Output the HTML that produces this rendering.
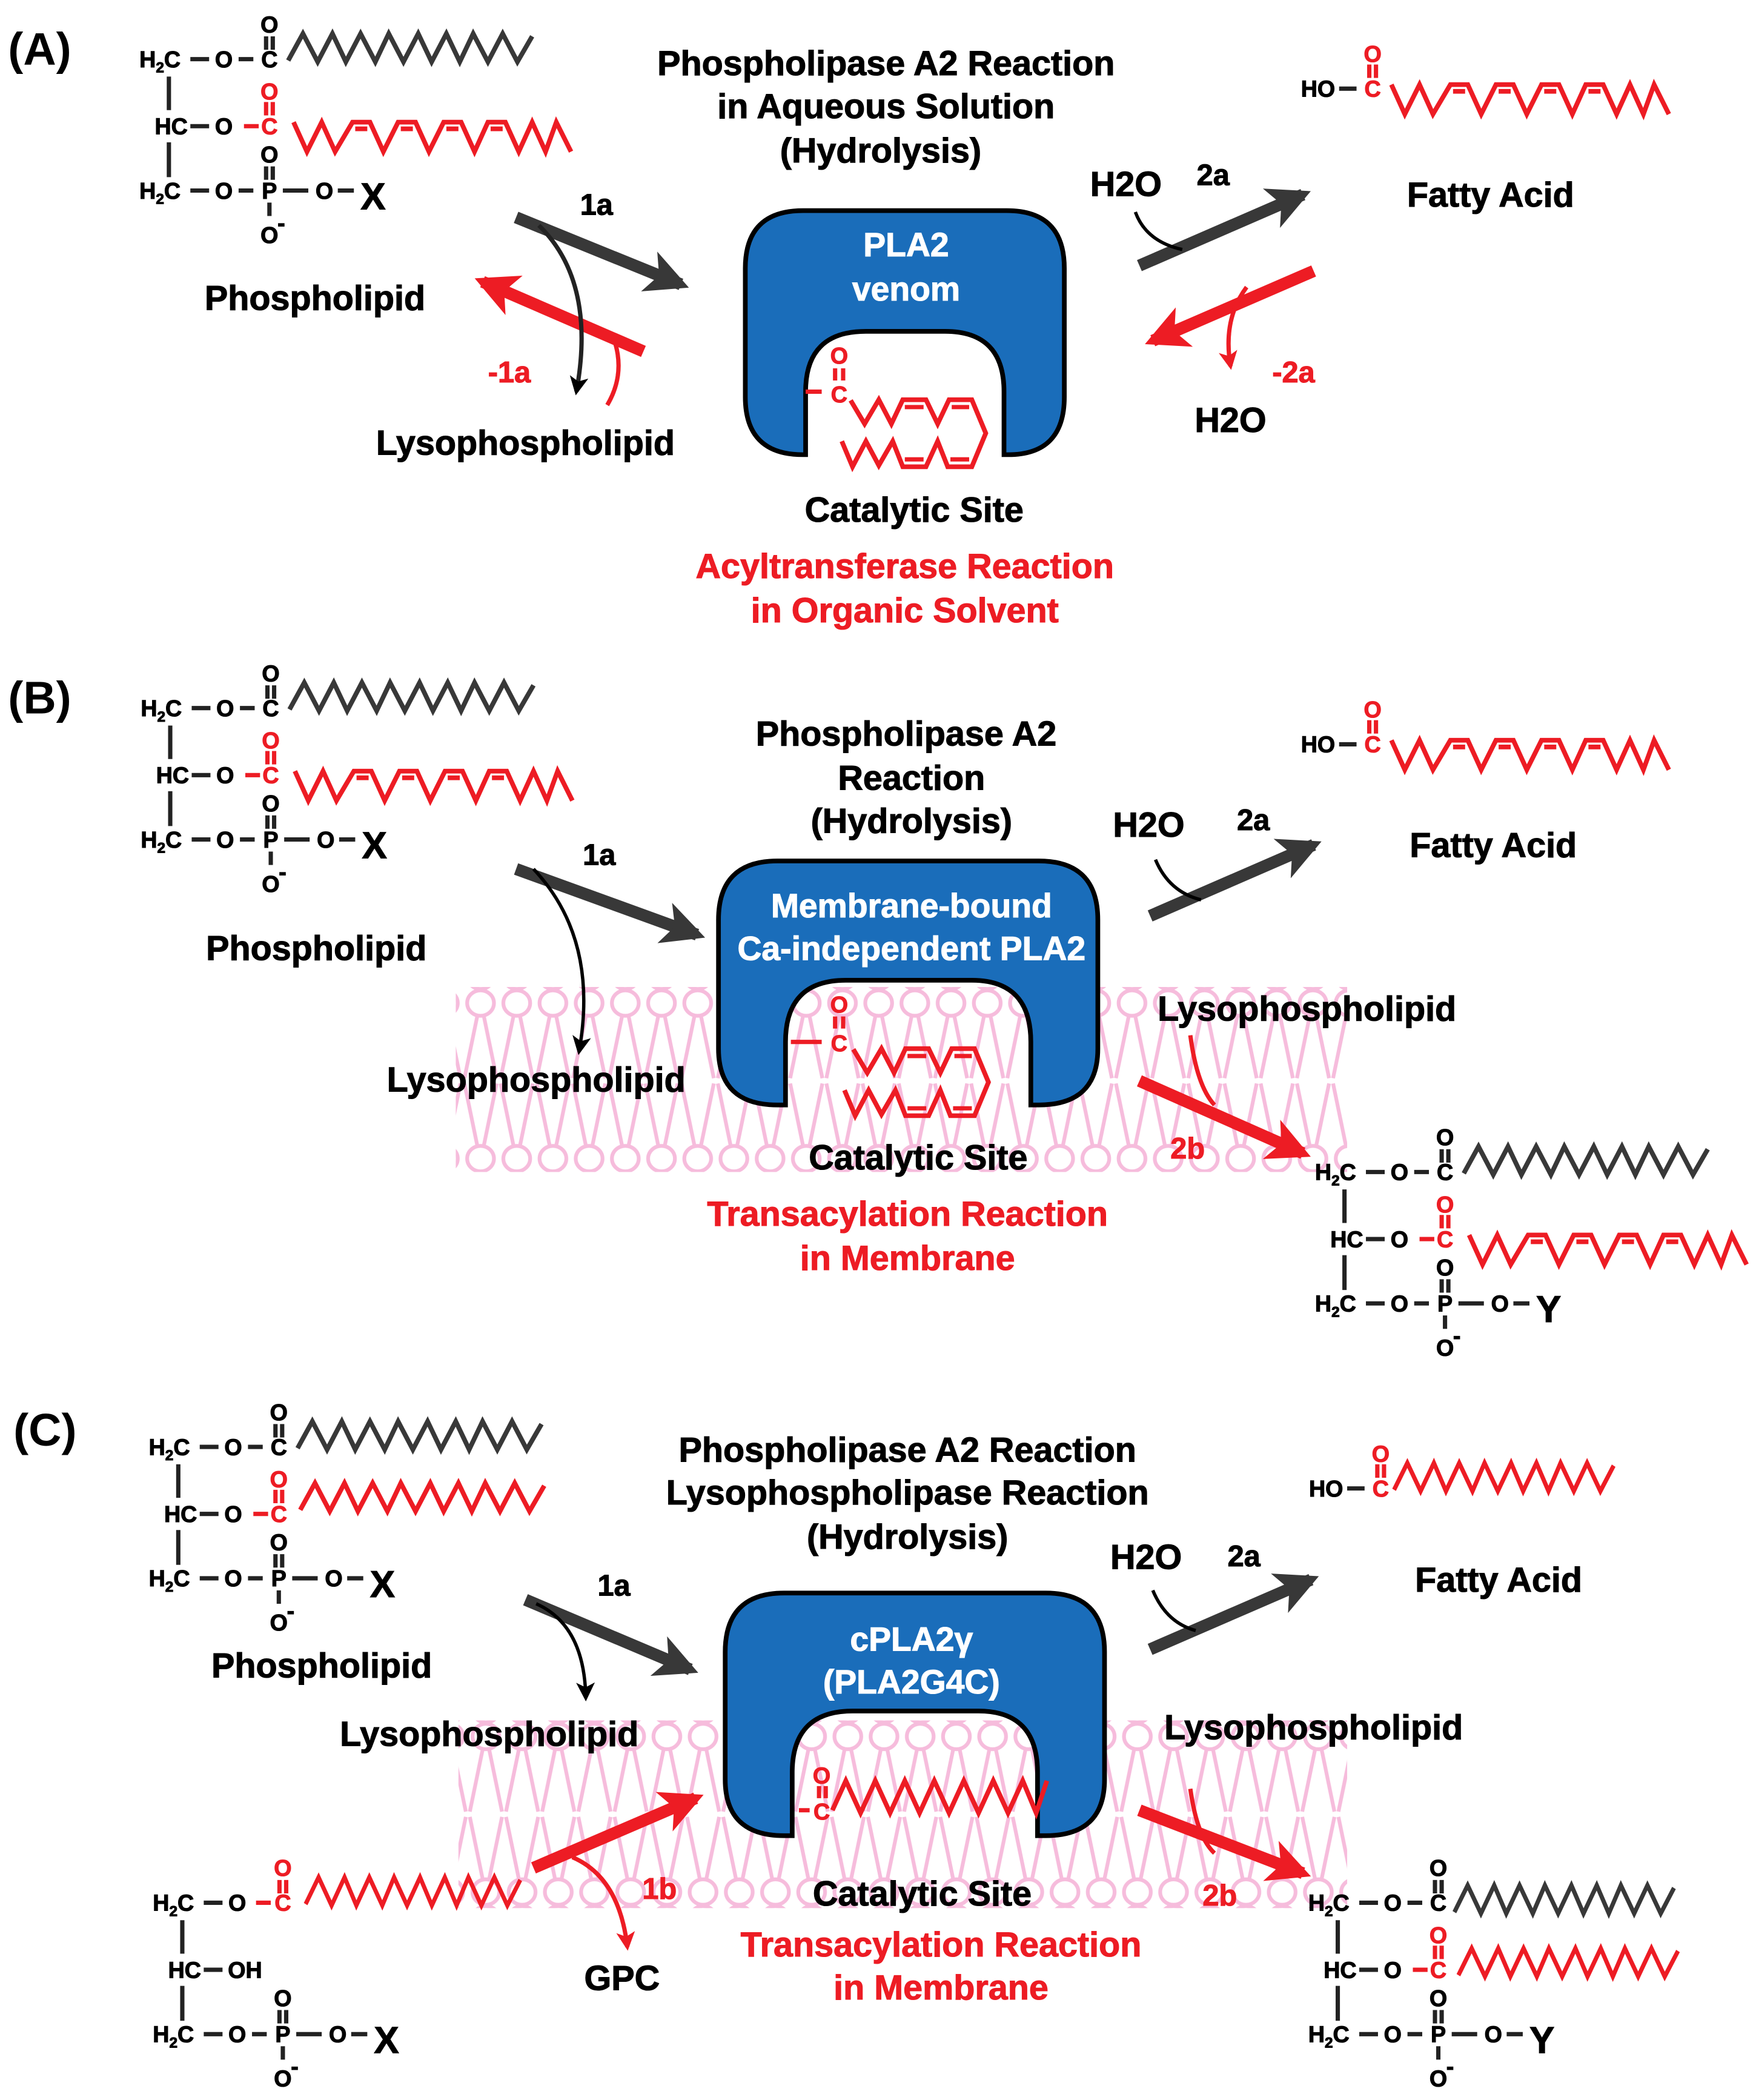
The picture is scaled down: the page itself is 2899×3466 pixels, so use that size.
<!DOCTYPE html>
<html><head><meta charset="utf-8"><style>
html,body{margin:0;padding:0;background:#fff}
svg{display:block}
text{font-family:"Liberation Sans",Arial,sans-serif;font-weight:bold;stroke-width:0.5px;paint-order:stroke}
.a{font-size:17px;fill:#000;stroke:#000}
.ar{font-size:17px;fill:#ed1c24;stroke:#ed1c24}
.m{text-anchor:middle}
.e{text-anchor:end}
.t{font-size:26px;fill:#000;stroke:#000;text-anchor:middle}
.tr{font-size:26px;fill:#ed1c24;stroke:#ed1c24;text-anchor:middle}
.tw{font-size:25px;fill:#fff;stroke:#fff;text-anchor:middle}
.n{font-size:22px;fill:#000;stroke:#000;text-anchor:middle}
.nr{font-size:22px;fill:#ed1c24;stroke:#ed1c24;text-anchor:middle}
.k{stroke:#222;stroke-width:3.2;fill:none}
.r{stroke:#ed1c24;stroke-width:3.2;fill:none}
.zg{stroke:#383838;stroke-width:3.5;fill:none;stroke-linejoin:miter}
.zr{stroke:#ed1c24;stroke-width:3.5;fill:none}
.enz{fill:#1a6dba;stroke:#000;stroke-width:3.5}
.big{font-size:28px;fill:#000;stroke:#000}
</style></head><body>
<svg width="2899" height="3466" viewBox="0 0 1310 1566" xmlns="http://www.w3.org/2000/svg">
<defs>
<polyline id="gz" points="0,0 11,-20 22,1 33,-20 43,1 54,-20 65,1 75,-20 86,1 97,-20 107,1 118,-20 128,1 138,-20 149,1 160,-20 171,1 182,-18"/>
<g id="rzd">
<polyline points="0,0 10,22 21,0 31,22 44,0 57,0 67,22 78,0 91,0 101,22 112,0 125,0 135,22 145,0 158,0 168,22 178,0 188,22 196,0 207,22"/>
<path d="M46,5H55M80,5H89M114,5H123M147,5H156"/>
</g>
<pattern id="memB" width="27" height="136" patternUnits="userSpaceOnUse" x="345" y="738">
<g stroke="#f6bcdc" stroke-width="2.8" fill="#fff">
<path d="M11,20L1.5,66M16,20L25.5,66M1.5,70L11,116M25.5,70L16,116" fill="none"/>
<ellipse cx="13.5" cy="10" rx="10" ry="9.5"/>
<ellipse cx="13.5" cy="126" rx="10" ry="9.5"/>
</g>
</pattern>
<pattern id="memC" width="27" height="136" patternUnits="userSpaceOnUse" x="349" y="1285">
<g stroke="#f6bcdc" stroke-width="2.8" fill="#fff">
<path d="M11,20L1.5,66M16,20L25.5,66M1.5,70L11,116M25.5,70L16,116" fill="none"/>
<ellipse cx="13.5" cy="10" rx="10" ry="9.5"/>
<ellipse cx="13.5" cy="126" rx="10" ry="9.5"/>
</g>
</pattern>
<marker id="hg" viewBox="0 0 10 10" refX="8" refY="5" markerUnits="userSpaceOnUse" markerWidth="36" markerHeight="32" orient="auto"><path d="M0,0L10,5L0,10L2.5,5z" fill="#383838"/></marker>
<marker id="hr" viewBox="0 0 10 10" refX="8" refY="5" markerUnits="userSpaceOnUse" markerWidth="36" markerHeight="32" orient="auto"><path d="M0,0L10,5L0,10L2.5,5z" fill="#ed1c24"/></marker>
<marker id="tk" viewBox="0 0 10 10" refX="8" refY="5" markerUnits="userSpaceOnUse" markerWidth="16" markerHeight="14" orient="auto"><path d="M0,0L10,5L0,10L2.5,5z" fill="#000"/></marker>
<marker id="tr" viewBox="0 0 10 10" refX="8" refY="5" markerUnits="userSpaceOnUse" markerWidth="16" markerHeight="14" orient="auto"><path d="M0,0L10,5L0,10L2.5,5z" fill="#ed1c24"/></marker>
</defs>

<!-- ================= PANEL A ================= -->
<text x="6" y="48" style="font-size:34px">(A)</text>
<g transform="translate(0,0)">
<text class="a" x="104" y="50">H<tspan font-size="11" dy="4">2</tspan><tspan dy="-4">C</tspan></text>
<text class="a" x="104" y="148">H<tspan font-size="11" dy="4">2</tspan><tspan dy="-4">C</tspan></text>
<text class="a e" x="140" y="100">HC</text>
<path class="k" d="M142 44H156M178 44H189M142 94H156M142 142H156M178 142H189M211 142H230M252 142H264M126 57V82M126 106V132M198.5 27V37M203.5 27V37M198.5 124V134M203.5 124V134M201 151V161"/>
<path class="r" d="M182 94H193M198.5 76V86M203.5 76V86"/>
<text class="a m" x="167" y="50">O</text><text class="a m" x="167" y="100">O</text><text class="a m" x="167" y="148">O</text>
<text class="a m" x="201" y="24">O</text><text class="a m" x="201" y="50">C</text>
<text class="ar m" x="201" y="74">O</text><text class="ar m" x="201" y="100">C</text>
<text class="a m" x="201" y="121">O</text><text class="a m" x="201" y="148">P</text>
<text class="a m" x="242" y="148">O</text>
<text class="a m" x="201" y="181">O</text><text class="a" x="207" y="172" font-size="13">-</text>
<text class="big" x="269" y="156">X</text>
<use href="#gz" x="215" y="45" class="zg"/>
<use href="#rzd" x="219" y="91" class="zr"/>
</g>
<text class="t" x="235" y="231">Phospholipid</text>
<text class="t" x="661" y="56">Phospholipase A2 Reaction</text>
<text class="t" x="661" y="88">in Aqueous Solution</text>
<text class="t" x="657" y="121">(Hydrolysis)</text>
<text class="n" x="445" y="160">1a</text>
<line x1="385" y1="162" x2="508" y2="212" stroke="#383838" stroke-width="9" marker-end="url(#hg)"/>
<line x1="480" y1="262" x2="360" y2="210" stroke="#ed1c24" stroke-width="9" marker-end="url(#hr)"/>
<path d="M402 168Q445 210 430 292" class="k" stroke="#000" stroke-width="2.5" marker-end="url(#tk)"/>
<path d="M453 302Q466 280 459 256" class="r" stroke-width="2.5"/>
<text class="nr" x="380" y="285">-1a</text>
<text class="t" x="392" y="339">Lysophospholipid</text>
<path class="enz" d="M601 339V292Q601 247 646 247H705Q749 247 749 292V339H752Q794 339 794 296V200Q794 157 751 157H599Q556 157 556 200V296Q556 339 599 339Z"/>
<text class="tw" x="676" y="191">PLA2</text>
<text class="tw" x="676" y="224">venom</text>
<path class="r" d="M601 292H613M623 274.6V283.7M629 274.6V283.7"/>
<text class="ar m" x="626" y="271">O</text><text class="ar m" x="626" y="300">C</text>
<polyline class="zr" points="634.6,298.5 645,316 655.6,298 665,316 673.5,298 690.8,298 699.5,316 708,298 725,298 735.4,323 725,348 707,348 699.5,329 690.8,348 673.5,348 666,329 655.6,347 646,329 636,348 628,329"/>
<path class="r" d="M675 303.5H689M710 303.5H723M675 342.5H689M709 342.5H723"/>
<text class="t" x="682" y="389">Catalytic Site</text>
<text class="tr" x="675" y="431">Acyltransferase Reaction</text>
<text class="tr" x="675" y="464">in Organic Solvent</text>
<text class="t" x="840" y="146">H2O</text>
<text class="n" x="905" y="138">2a</text>
<line x1="850" y1="198" x2="972" y2="145" stroke="#383838" stroke-width="9" marker-end="url(#hg)"/>
<path d="M847 158Q855 180 882 186" fill="none" stroke="#000" stroke-width="2.5"/>
<line x1="980" y1="202" x2="860" y2="254" stroke="#ed1c24" stroke-width="9" marker-end="url(#hr)"/>
<path d="M930 214Q912 238 918 273" class="r" stroke-width="2.5" marker-end="url(#tr)"/>
<text class="nr" x="965" y="285">-2a</text>
<text class="t" x="918" y="322">H2O</text>
<text class="a e" x="996" y="72">HO</text>
<path class="k" d="M999 66H1012"/>
<path class="r" d="M1021.5 48V58M1026.5 48V58"/>
<text class="ar m" x="1024" y="46">O</text><text class="ar m" x="1024" y="72">C</text>
<use href="#rzd" x="1038" y="63" class="zr"/>
<text class="t" x="1112" y="154">Fatty Acid</text>

<!-- ================= PANEL B ================= -->
<text x="6" y="532" style="font-size:34px">(B)</text>
<g transform="translate(1,484)">
<text class="a" x="104" y="50">H<tspan font-size="11" dy="4">2</tspan><tspan dy="-4">C</tspan></text>
<text class="a" x="104" y="148">H<tspan font-size="11" dy="4">2</tspan><tspan dy="-4">C</tspan></text>
<text class="a e" x="140" y="100">HC</text>
<path class="k" d="M142 44H156M178 44H189M142 94H156M142 142H156M178 142H189M211 142H230M252 142H264M126 57V82M126 106V132M198.5 27V37M203.5 27V37M198.5 124V134M203.5 124V134M201 151V161"/>
<path class="r" d="M182 94H193M198.5 76V86M203.5 76V86"/>
<text class="a m" x="167" y="50">O</text><text class="a m" x="167" y="100">O</text><text class="a m" x="167" y="148">O</text>
<text class="a m" x="201" y="24">O</text><text class="a m" x="201" y="50">C</text>
<text class="ar m" x="201" y="74">O</text><text class="ar m" x="201" y="100">C</text>
<text class="a m" x="201" y="121">O</text><text class="a m" x="201" y="148">P</text>
<text class="a m" x="242" y="148">O</text>
<text class="a m" x="201" y="181">O</text><text class="a" x="207" y="172" font-size="13">-</text>
<text class="big" x="269" y="156">X</text>
<use href="#gz" x="215" y="45" class="zg"/>
<use href="#rzd" x="219" y="91" class="zr"/>
</g>
<text class="t" x="236" y="716">Phospholipid</text>
<text class="t" x="676" y="556">Phospholipase A2</text>
<text class="t" x="680" y="589">Reaction</text>
<text class="t" x="680" y="621">(Hydrolysis)</text>
<rect x="340" y="736" width="665" height="138" fill="url(#memB)"/>
<text class="n" x="447" y="645">1a</text>
<line x1="385" y1="648" x2="520" y2="697" stroke="#383838" stroke-width="9" marker-end="url(#hg)"/>
<path d="M398 648Q447 700 432 784" fill="none" stroke="#000" stroke-width="2.5" marker-end="url(#tk)"/>
<text class="t" x="400" y="814">Lysophospholipid</text>
<path class="enz" d="M586 824V777Q586 731 631 731H725Q769 731 769 777V824H775Q819 824 819 782V686Q819 642 775 642H580Q536 642 536 686V782Q536 824 580 824Z"/>
<text class="tw" x="680" y="684">Membrane-bound</text>
<text class="tw" x="680" y="716">Ca-independent PLA2</text>
<path class="r" d="M590 777H613M623 758V767M629 758V767"/>
<text class="ar m" x="626" y="755">O</text><text class="ar m" x="626" y="784">C</text>
<g transform="translate(2,484)">
<polyline class="zr" points="634.6,298.5 645,316 655.6,298 665,316 673.5,298 690.8,298 699.5,316 708,298 725,298 735.4,323 725,348 707,348 699.5,329 690.8,348 673.5,348 666,329 655.6,347 646,329 636,348 628,329"/>
<path class="r" d="M675 303.5H689M710 303.5H723M675 342.5H689M709 342.5H723"/>
</g>
<text class="t" x="685" y="872">Catalytic Site</text>
<text class="tr" x="677" y="914">Transacylation Reaction</text>
<text class="tr" x="677" y="947">in Membrane</text>
<text class="t" x="857" y="624">H2O</text>
<text class="n" x="935" y="619">2a</text>
<line x1="858" y1="683" x2="980" y2="630" stroke="#383838" stroke-width="9" marker-end="url(#hg)"/>
<path d="M862 641Q872 665 896 671" fill="none" stroke="#000" stroke-width="2.5"/>
<text class="t" x="975" y="761">Lysophospholipid</text>
<path d="M888 772Q893 810 906 824" class="r" stroke-width="2.5"/>
<line x1="850" y1="806" x2="972" y2="860" stroke="#ed1c24" stroke-width="9" marker-end="url(#hr)"/>
<text class="nr" x="886" y="864">2b</text>
<g transform="translate(0,489)">
<text class="a e" x="996" y="72">HO</text>
<path class="k" d="M999 66H1012"/>
<path class="r" d="M1021.5 48V58M1026.5 48V58"/>
<text class="ar m" x="1024" y="46">O</text><text class="ar m" x="1024" y="72">C</text>
<use href="#rzd" x="1038" y="63" class="zr"/>
</g>
<text class="t" x="1114" y="639">Fatty Acid</text>
<g transform="translate(877,830)">
<text class="a" x="104" y="50">H<tspan font-size="11" dy="4">2</tspan><tspan dy="-4">C</tspan></text>
<text class="a" x="104" y="148">H<tspan font-size="11" dy="4">2</tspan><tspan dy="-4">C</tspan></text>
<text class="a e" x="140" y="100">HC</text>
<path class="k" d="M142 44H156M178 44H189M142 94H156M142 142H156M178 142H189M211 142H230M252 142H264M126 57V82M126 106V132M198.5 27V37M203.5 27V37M198.5 124V134M203.5 124V134M201 151V161"/>
<path class="r" d="M182 94H193M198.5 76V86M203.5 76V86"/>
<text class="a m" x="167" y="50">O</text><text class="a m" x="167" y="100">O</text><text class="a m" x="167" y="148">O</text>
<text class="a m" x="201" y="24">O</text><text class="a m" x="201" y="50">C</text>
<text class="ar m" x="201" y="74">O</text><text class="ar m" x="201" y="100">C</text>
<text class="a m" x="201" y="121">O</text><text class="a m" x="201" y="148">P</text>
<text class="a m" x="242" y="148">O</text>
<text class="a m" x="201" y="181">O</text><text class="a" x="207" y="172" font-size="13">-</text>
<text class="big" x="269" y="156">Y</text>
<use href="#gz" x="215" y="45" class="zg"/>
<use href="#rzd" x="219" y="91" class="zr"/>
</g>

<!-- ================= PANEL C ================= -->
<text x="10" y="1078" style="font-size:34px">(C)</text>
<g transform="translate(7,1035)">
<text class="a" x="104" y="50">H<tspan font-size="11" dy="4">2</tspan><tspan dy="-4">C</tspan></text>
<text class="a" x="104" y="148">H<tspan font-size="11" dy="4">2</tspan><tspan dy="-4">C</tspan></text>
<text class="a e" x="140" y="100">HC</text>
<path class="k" d="M142 44H156M178 44H189M142 94H156M142 142H156M178 142H189M211 142H230M252 142H264M126 57V82M126 106V132M198.5 27V37M203.5 27V37M198.5 124V134M203.5 124V134M201 151V161"/>
<path class="r" d="M182 94H193M198.5 76V86M203.5 76V86"/>
<text class="a m" x="167" y="50">O</text><text class="a m" x="167" y="100">O</text><text class="a m" x="167" y="148">O</text>
<text class="a m" x="201" y="24">O</text><text class="a m" x="201" y="50">C</text>
<text class="ar m" x="201" y="74">O</text><text class="ar m" x="201" y="100">C</text>
<text class="a m" x="201" y="121">O</text><text class="a m" x="201" y="148">P</text>
<text class="a m" x="242" y="148">O</text>
<text class="a m" x="201" y="181">O</text><text class="a" x="207" y="172" font-size="13">-</text>
<text class="big" x="269" y="156">X</text>
<use href="#gz" x="215" y="45" class="zg"/>
<use href="#gz" x="217" y="91" class="zr"/>
</g>
<text class="t" x="240" y="1251">Phospholipid</text>
<text class="t" x="677" y="1090">Phospholipase A2 Reaction</text>
<text class="t" x="677" y="1122">Lysophospholipase Reaction</text>
<text class="t" x="677" y="1155">(Hydrolysis)</text>
<rect x="342" y="1283" width="663" height="140" fill="url(#memC)"/>
<text class="n" x="458" y="1190">1a</text>
<line x1="392" y1="1193" x2="515" y2="1245" stroke="#383838" stroke-width="9" marker-end="url(#hg)"/>
<path d="M400 1196Q436 1212 437 1266" fill="none" stroke="#000" stroke-width="2.5" marker-end="url(#tk)"/>
<text class="t" x="365" y="1302">Lysophospholipid</text>
<path class="enz" d="M591 1369V1322Q591 1276 636 1276H730Q774 1276 774 1322V1369H780Q824 1369 824 1327V1232Q824 1188 780 1188H585Q541 1188 541 1232V1327Q541 1369 585 1369Z"/>
<text class="tw" x="680" y="1231">cPLA2γ</text>
<text class="tw" x="680" y="1263">(PLA2G4C)</text>
<path class="r" d="M596 1350H604M611 1332V1341M616 1332V1341"/>
<text class="ar m" x="613" y="1330">O</text><text class="ar m" x="613" y="1357">C</text>
<polyline class="zr" points="621,1350 631,1328 642,1352 653,1328 664,1352 675,1328 686,1352 697,1328 708,1352 719,1328 730,1352 741,1328 752,1352 763,1328 773,1352 781,1328"/>
<text class="t" x="688" y="1421">Catalytic Site</text>
<text class="tr" x="702" y="1459">Transacylation Reaction</text>
<text class="tr" x="702" y="1491">in Membrane</text>
<text class="t" x="855" y="1170">H2O</text>
<text class="n" x="928" y="1168">2a</text>
<line x1="858" y1="1230" x2="978" y2="1178" stroke="#383838" stroke-width="9" marker-end="url(#hg)"/>
<path d="M860 1186Q870 1210 892 1216" fill="none" stroke="#000" stroke-width="2.5"/>
<g transform="translate(6,1044)">
<text class="a e" x="996" y="72">HO</text>
<path class="k" d="M999 66H1012"/>
<path class="r" d="M1021.5 48V58M1026.5 48V58"/>
<text class="ar m" x="1024" y="46">O</text><text class="ar m" x="1024" y="72">C</text>
<use href="#gz" x="1034" y="67" class="zr" transform="translate(1034,67) scale(0.9,1) translate(-1034,-67)"/>
</g>
<text class="t" x="1118" y="1187">Fatty Acid</text>
<text class="t" x="980" y="1297">Lysophospholipid</text>
<path d="M888 1334Q893 1370 906 1382" class="r" stroke-width="2.5"/>
<line x1="850" y1="1350" x2="972" y2="1397" stroke="#ed1c24" stroke-width="9" marker-end="url(#hr)"/>
<text class="nr" x="910" y="1421">2b</text>
<line x1="398" y1="1393" x2="519" y2="1341" stroke="#ed1c24" stroke-width="9" marker-end="url(#hr)"/>
<path d="M427 1385Q462 1400 468 1452" class="r" stroke-width="2.5" marker-end="url(#tr)"/>
<text class="nr" x="492" y="1416">1b</text>
<text class="t" x="464" y="1484">GPC</text>
<g transform="translate(10,1375)">
<text class="a" x="104" y="50">H<tspan font-size="11" dy="4">2</tspan><tspan dy="-4">C</tspan></text>
<text class="a" x="104" y="148">H<tspan font-size="11" dy="4">2</tspan><tspan dy="-4">C</tspan></text>
<text class="a e" x="140" y="100">HC</text>
<path class="k" d="M142 44H156M142 94H156M142 142H156M178 142H189M211 142H230M252 142H264M126 57V82M126 106V132M198.5 124V134M203.5 124V134M201 151V161"/>
<path class="r" d="M181 44H192M198.5 27V37M203.5 27V37"/>
<text class="a m" x="167" y="50">O</text><text class="a" x="160" y="100">OH</text><text class="a m" x="167" y="148">O</text>
<text class="ar m" x="201" y="24">O</text><text class="ar m" x="201" y="50">C</text>
<text class="a m" x="201" y="121">O</text><text class="a m" x="201" y="148">P</text>
<text class="a m" x="242" y="148">O</text>
<text class="a m" x="201" y="181">O</text><text class="a" x="207" y="172" font-size="13">-</text>
<text class="big" x="269" y="156">X</text>
<use href="#gz" x="218" y="45" class="zr" transform="translate(218,45) scale(0.88,1) translate(-218,-45)"/>
</g>
<g transform="translate(872,1375)">
<text class="a" x="104" y="50">H<tspan font-size="11" dy="4">2</tspan><tspan dy="-4">C</tspan></text>
<text class="a" x="104" y="148">H<tspan font-size="11" dy="4">2</tspan><tspan dy="-4">C</tspan></text>
<text class="a e" x="140" y="100">HC</text>
<path class="k" d="M142 44H156M178 44H189M142 94H156M142 142H156M178 142H189M211 142H230M252 142H264M126 57V82M126 106V132M198.5 27V37M203.5 27V37M198.5 124V134M203.5 124V134M201 151V161"/>
<path class="r" d="M182 94H193M198.5 76V86M203.5 76V86"/>
<text class="a m" x="167" y="50">O</text><text class="a m" x="167" y="100">O</text><text class="a m" x="167" y="148">O</text>
<text class="a m" x="201" y="24">O</text><text class="a m" x="201" y="50">C</text>
<text class="ar m" x="201" y="74">O</text><text class="ar m" x="201" y="100">C</text>
<text class="a m" x="201" y="121">O</text><text class="a m" x="201" y="148">P</text>
<text class="a m" x="242" y="148">O</text>
<text class="a m" x="201" y="181">O</text><text class="a" x="207" y="172" font-size="13">-</text>
<text class="big" x="269" y="156">Y</text>
<use href="#gz" x="213" y="51" class="zg" transform="translate(213,51) scale(0.9,1) translate(-213,-51)"/>
<use href="#gz" x="216" y="98" class="zr" transform="translate(216,98) scale(0.9,1) translate(-216,-98)"/>
</g>
</svg>
</body></html>
